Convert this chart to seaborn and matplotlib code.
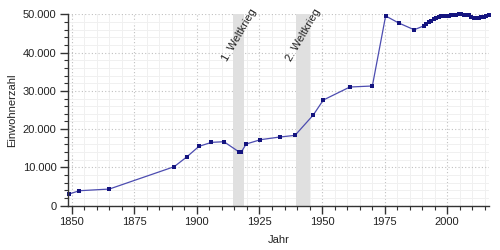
import matplotlib
matplotlib.use("Agg")
import matplotlib.pyplot as plt
import matplotlib.ticker as mticker
import seaborn as sns
import pandas as pd

# --- data ---
years = [1848.9, 1853.0, 1865.0, 1890.9, 1895.9, 1900.8, 1905.8, 1910.8,
         1916.7, 1917.8, 1919.7, 1925.4, 1933.2, 1939.2, 1946.5, 1950.5,
         1961.1, 1970.1, 1975.4, 1980.6, 1986.8,
         1990.6, 1991.6, 1992.6, 1993.6, 1994.6, 1995.6, 1996.6, 1997.6,
         1998.6, 1999.6, 2000.6, 2001.6, 2002.6, 2003.6, 2004.6, 2005.6,
         2006.6, 2007.6, 2008.6, 2009.6, 2010.6, 2011.6, 2012.6, 2013.6,
         2014.6, 2015.6, 2016.6]
population = [3050, 3920, 4360, 10190, 12720, 15500, 16550, 16720,
              14110, 14110, 16120, 17250, 17950, 18380, 23700, 27600,
              31000, 31270, 49560, 47730, 45950,
              46950, 47450, 47900, 48300, 48700, 49100, 49400, 49500,
              49550, 49500, 49650, 49700, 49750, 49850, 49950, 49950,
              49900, 49700, 49750, 49250, 49050, 49150, 49150, 49200,
              49350, 49550, 49800]

war_labels = ["1. Weltkrieg", "2. Weltkrieg"]
war_start = [1914.6, 1939.6]
war_end = [1918.9, 1945.3]

x_label = "Jahr"
y_label = "Einwohnerzahl"

df = pd.DataFrame({"Jahr": years, "Einwohnerzahl": population})

sns.set_theme(style="white")
plt.rcParams["font.family"] = ["Liberation Sans", "DejaVu Sans"]

fig = plt.figure(figsize=(5, 2.5), dpi=100)
ax = fig.add_axes([0.1355, 0.177, 0.843, 0.766])

# grids
ax.set_axisbelow(True)
ax.xaxis.set_major_locator(mticker.MultipleLocator(25))
ax.xaxis.set_minor_locator(mticker.MultipleLocator(5))
ax.yaxis.set_major_locator(mticker.MultipleLocator(10000))
ax.yaxis.set_minor_locator(mticker.MultipleLocator(2000))
ax.grid(which="minor", color="#f0f0f0", linewidth=0.7, linestyle="-")
ax.grid(which="major", color="#c0c0c0", linewidth=0.8, linestyle=(0, (1, 2)))

# war bands
for s, e, lab in zip(war_start, war_end, war_labels):
    ax.axvspan(s, e, color="#e0e0e0", zorder=1, linewidth=0)
    ax.text((s + e) / 2 + 0.2, 44600, lab, rotation=60, ha="center", va="center",
            fontsize=8, color="#222222", zorder=2)

sns.lineplot(data=df, x="Jahr", y="Einwohnerzahl", ax=ax, color="#4c4cb0",
             linewidth=0.9, marker="s", markersize=2.4, markeredgewidth=0,
             markerfacecolor="#14147f",
             clip_on=False, zorder=3)

ax.set_xlim(1848.4, 2016.8)
ax.set_ylim(0, 50000)

ax.yaxis.set_major_formatter(mticker.FuncFormatter(
    lambda v, p: f"{int(v):,}".replace(",", ".")))

for side in ["top", "right"]:
    ax.spines[side].set_visible(False)
for side in ["left", "bottom"]:
    ax.spines[side].set_color("#333333")
    ax.spines[side].set_linewidth(1.0)
    ax.spines[side].set_zorder(4)

ax.tick_params(which="major", direction="out", length=6, width=1,
               color="#333333", labelsize=8, labelcolor="#222222", pad=2,
               left=True, bottom=True)
ax.tick_params(which="minor", direction="out", length=3, width=0.8,
               color="#333333", left=True, bottom=True)

ax.set_xlabel(x_label, fontsize=8, color="#222222", labelpad=6)
ax.set_ylabel(y_label, fontsize=8, color="#222222", labelpad=4)

fig.savefig("out.png", dpi=100)
